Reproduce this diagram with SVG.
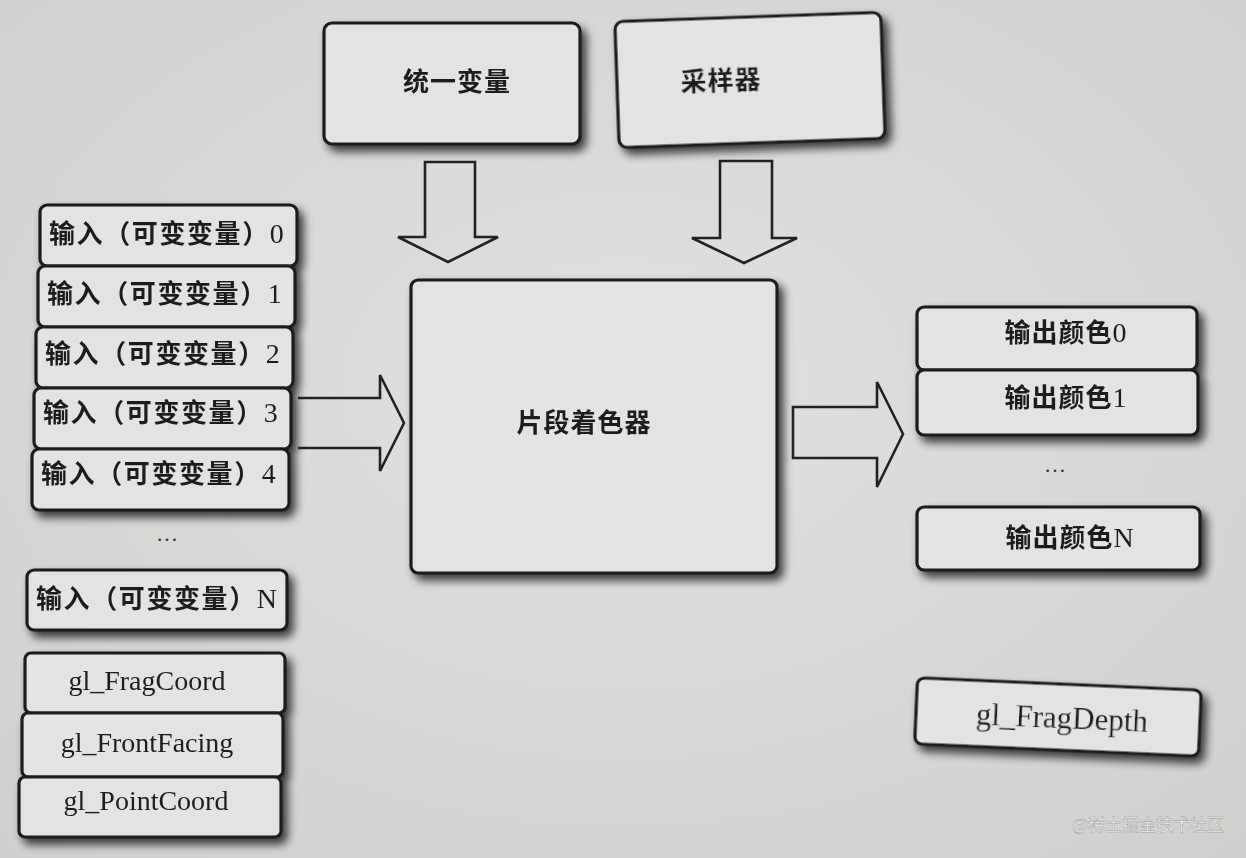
<svg xmlns="http://www.w3.org/2000/svg" width="1246" height="858" viewBox="0 0 1246 858">
<defs>
<radialGradient id="bg" cx="50%" cy="45%" r="75%">
<stop offset="0" stop-color="#e1e1df"/>
<stop offset="1" stop-color="#cfcfcd"/>
</radialGradient>
<filter id="sh" x="-20%" y="-20%" width="140%" height="150%">
<feGaussianBlur in="SourceAlpha" stdDeviation="5"/>
<feOffset dx="5" dy="6" result="b"/>
<feComponentTransfer in="b" result="s"><feFuncA type="linear" slope="0.75"/></feComponentTransfer>
<feMerge><feMergeNode in="s"/><feMergeNode in="SourceGraphic"/></feMerge>
</filter>
<style>
.box{fill:#e3e3e1;stroke:#1c1c1c;stroke-width:3.2}
.arr{fill:none;stroke:#222;stroke-width:2.6;stroke-linejoin:miter}
.zh{font-family:"Liberation Serif","Noto Sans CJK SC",serif;font-size:26px;font-weight:bold;fill:#1e1e1e;letter-spacing:1px}
.zl{font-family:"Liberation Serif","Noto Sans CJK SC",serif;font-size:26px;font-weight:bold;fill:#1e1e1e;letter-spacing:1.6px}
.en{font-family:"Liberation Serif",serif;font-size:28px;fill:#1e1e1e}
.en31{font-size:31px}
.dig{font-weight:normal;font-size:28px}
.dots{font-family:"Liberation Serif",serif;font-size:22px;fill:#333}
.wm{font-family:"Noto Sans CJK SC",sans-serif;font-size:17px;fill:#f2f2f2;stroke:#9a9a9a;stroke-width:0.4}
</style>
</defs>
<rect x="0" y="0" width="1246" height="858" fill="url(#bg)"/>

<g id="uniform" filter="url(#sh)">
<rect class="box" x="324" y="23" width="256" height="121" rx="8"/>
<text class="zh" x="457" y="91" text-anchor="middle">统一变量</text>
</g>
<g id="sampler" filter="url(#sh)" transform="rotate(-2 750 80)">
<rect class="box" x="617" y="17" width="266" height="126" rx="8"/>
<text class="zh" x="721" y="89" text-anchor="middle">采样器</text>
</g>
<g id="fragment-shader" filter="url(#sh)">
<rect class="box" x="411" y="280" width="366" height="293" rx="7"/>
<text class="zh" x="584" y="432" text-anchor="middle">片段着色器</text>
</g>

<g id="inputs" filter="url(#sh)">
<g id="input0"><rect class="box" x="40" y="205" width="257" height="61" rx="7"/>
<text class="zl" x="49" y="243">输入（可变变量）<tspan class="dig">0</tspan></text></g>
<g id="input1"><rect class="box" x="38" y="266" width="257" height="61" rx="7"/>
<text class="zl" x="47" y="303">输入（可变变量）<tspan class="dig">1</tspan></text></g>
<g id="input2"><rect class="box" x="36" y="327" width="257" height="61" rx="7"/>
<text class="zl" x="45" y="363">输入（可变变量）<tspan class="dig">2</tspan></text></g>
<g id="input3"><rect class="box" x="34" y="388" width="257" height="61" rx="7"/>
<text class="zl" x="43" y="422">输入（可变变量）<tspan class="dig">3</tspan></text></g>
<g id="input4"><rect class="box" x="32" y="449" width="257" height="61" rx="7"/>
<text class="zl" x="41" y="483">输入（可变变量）<tspan class="dig">4</tspan></text></g>
</g>
<text class="dots" x="167" y="541" text-anchor="middle">…</text>
<g id="inputN" filter="url(#sh)">
<rect class="box" x="27" y="570" width="260" height="60" rx="7"/>
<text class="zl" x="36" y="608">输入（可变变量）<tspan class="dig">N</tspan></text>
</g>

<g id="builtins-in" filter="url(#sh)">
<g id="gl-fragcoord"><rect class="box" x="25" y="653" width="260" height="60" rx="6"/>
<text class="en" x="147" y="690" text-anchor="middle">gl_FragCoord</text></g>
<g id="gl-frontfacing"><rect class="box" x="22" y="713" width="261" height="64" rx="6"/>
<text class="en" x="147" y="752" text-anchor="middle">gl_FrontFacing</text></g>
<g id="gl-pointcoord"><rect class="box" x="19" y="777" width="262" height="60" rx="6"/>
<text class="en" x="146" y="810" text-anchor="middle">gl_PointCoord</text></g>
</g>

<g id="outputs" filter="url(#sh)">
<g id="output0"><rect class="box" x="917" y="307" width="280" height="63" rx="7"/>
<text class="zh" x="1066" y="342" text-anchor="middle">输出颜色<tspan class="dig">0</tspan></text></g>
<g id="output1"><rect class="box" x="917" y="370" width="281" height="65" rx="7"/>
<text class="zh" x="1066" y="407" text-anchor="middle">输出颜色<tspan class="dig">1</tspan></text></g>
</g>
<text class="dots" x="1055" y="472" text-anchor="middle">…</text>
<g id="outputN" filter="url(#sh)">
<rect class="box" x="917" y="507" width="283" height="63" rx="7"/>
<text class="zh" x="1070" y="547" text-anchor="middle">输出颜色<tspan class="dig">N</tspan></text>
</g>
<g id="gl-fragdepth" filter="url(#sh)" transform="rotate(2.5 1058 717)">
<rect class="box" x="916" y="684" width="284" height="66" rx="7"/>
<text class="en en31" x="1062" y="728" text-anchor="middle">gl_FragDepth</text>
</g>

<g id="connectors">
<polygon class="arr" points="425,162 475,162 475,237 498,237 448,262 398,237 425,237"/>
<polygon class="arr" points="720,161 772,161 772,238 797,238 744,263 692,238 720,238"/>
<polyline class="arr" points="298,398 380,398 380,375 404,423 380,471 380,448 298,448"/>
<polygon class="arr" points="793,407 877,407 877,382 903,434 877,487 877,458 793,458"/>
</g>

<text class="wm" x="1072" y="831">@稀土掘金技术社区</text>
</svg>
